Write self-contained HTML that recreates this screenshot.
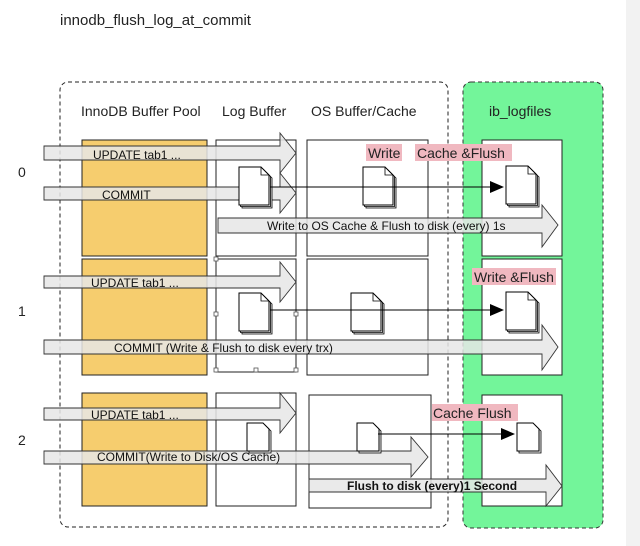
<!DOCTYPE html>
<html><head><meta charset="utf-8"><style>
html,body{margin:0;padding:0;background:#fff;}
svg{display:block;font-family:"Liberation Sans",sans-serif;}
</style></head><body>
<svg width="640" height="546" viewBox="0 0 640 546" xmlns="http://www.w3.org/2000/svg">
<defs>
<g id="doc">
<path d="M3,3 h22 l8,8 v30 h-30z" fill="#eee" stroke="#000" stroke-width="0.8"/>
<path d="M1.5,1.5 h22 l8,8 v30 h-30z" fill="#fff" stroke="#000" stroke-width="0.8"/>
<path d="M0,0 h22 l8,8 v30 h-30z" fill="#fff" stroke="#000" stroke-width="1"/>
<path d="M22,0 v8 h8" fill="none" stroke="#000" stroke-width="0.8"/>
</g>
<g id="docs">
<path d="M2,2 h16 l6,6 v22 h-22z" fill="#eee" stroke="#000" stroke-width="0.8"/>
<path d="M0,0 h16 l6,6 v22 h-22z" fill="#fff" stroke="#000" stroke-width="1"/>
</g>
</defs>
<rect x="626" y="0" width="14" height="546" fill="#f2f2f2"/>
<text x="60" y="25" font-size="15" fill="#222">innodb_flush_log_at_commit</text>
<rect x="60" y="82" width="388" height="445" rx="8" fill="none" stroke="#222" stroke-dasharray="4,3"/>
<rect x="463" y="82" width="140" height="446" rx="8" fill="#73f59a" stroke="#333" stroke-dasharray="4,3"/>
<g font-size="14" fill="#222">
<text x="81" y="116">InnoDB Buffer Pool</text>
<text x="222" y="116">Log Buffer</text>
<text x="311" y="116">OS Buffer/Cache</text>
<text x="489" y="116">ib_logfiles</text>
<text x="18" y="177">0</text><text x="18" y="316">1</text><text x="18" y="445">2</text>
</g>
<g stroke="#222" stroke-width="1">
<rect x="82" y="140" width="125" height="116" fill="#f6cd6e"/>
<rect x="216" y="140" width="80" height="116" fill="#fff"/>
<rect x="307" y="140" width="121" height="116" fill="#fff"/>
<rect x="482" y="140" width="80" height="116" fill="#fff"/>
<rect x="82" y="259" width="125" height="116" fill="#f6cd6e"/>
<rect x="216" y="259" width="80" height="113" fill="#fff"/>
<rect x="307" y="259" width="121" height="116" fill="#fff"/>
<rect x="482" y="259" width="80" height="116" fill="#fff"/>
<rect x="82" y="393" width="125" height="113" fill="#f6cd6e"/>
<rect x="216" y="393" width="80" height="113" fill="#fff"/>
<rect x="309" y="395" width="122" height="113" fill="#fff"/>
<rect x="482" y="395" width="80" height="111" fill="#fff"/>
</g>
<g font-size="14" fill="#222">
<rect x="366" y="144" width="36" height="17" fill="#f0b8c0"/><text x="368" y="158">Write</text>
<rect x="415" y="144" width="97" height="17" fill="#f0b8c0"/><text x="417" y="158">Cache &amp;Flush</text>
<rect x="472" y="268" width="84" height="17" fill="#f0b8c0"/><text x="474" y="282">Write &amp;Flush</text>
<rect x="432" y="404" width="86" height="17" fill="#f0b8c0"/><text x="433" y="418">Cache Flush</text>
</g>
<g fill="rgba(230,230,230,0.85)" stroke="#333" stroke-width="0.9">
<polygon points="44,146 280,146 280,133 296,153 280,173 280,160 44,160"/>
<polygon points="44,187 280,187 280,173 296,193 280,213 280,200 44,200"/>
<polygon points="218,218 542,218 542,205 558,225 542,247 542,233 218,233"/>
<polygon points="44,276 280,276 280,262 296,282 280,302 280,288 44,288"/>
<polygon points="44,340 542,340 542,325 558,347 542,370 542,354 44,354"/>
<polygon points="44,408 280,408 280,393 296,413 280,433 280,420 44,420"/>
<polygon points="44,451 411,451 411,437 428,457 411,477 411,464 44,464"/>
<polygon points="309,479 546,479 546,465 562,486 546,506 546,492 309,492"/>
</g>
<use href="#doc" x="239" y="167"/>
<use href="#doc" x="363" y="167"/>
<use href="#doc" x="506" y="166"/>
<use href="#doc" x="239" y="293"/>
<use href="#doc" x="351" y="293"/>
<use href="#doc" x="506" y="292"/>
<use href="#docs" x="247" y="423"/>
<use href="#docs" x="357" y="423"/>
<use href="#docs" x="517" y="423"/>
<g font-size="12" fill="#111">
<text x="93" y="159">UPDATE tab1 ...</text>
<text x="102" y="199">COMMIT</text>
<text x="267" y="230">Write to OS Cache &amp; Flush to disk (every) 1s</text>
<text x="91" y="287">UPDATE tab1 ...</text>
<text x="114" y="352">COMMIT (Write &amp; Flush to disk  every trx)</text>
<text x="91" y="419">UPDATE tab1 ...</text>
<text x="97" y="461">COMMIT(Write to Disk/OS Cache)</text>
<text x="347" y="490" font-weight="bold">Flush to disk (every)1 Second</text>
</g>
<g stroke="#000" stroke-width="1">
<line x1="270" y1="187" x2="492" y2="187"/>
<line x1="270" y1="310" x2="492" y2="310"/>
<line x1="378" y1="434" x2="503" y2="434"/>
</g>
<polygon points="490,181 504,187 490,193" fill="#000"/>
<polygon points="490,304 504,310 490,316" fill="#000"/>
<polygon points="501,428 515,434 501,440" fill="#000"/>
<g fill="#fff" stroke="#555" stroke-width="0.8">
<rect x="214" y="257" width="4" height="4"/><rect x="214" y="312" width="4" height="4"/><rect x="214" y="368" width="4" height="4"/>
<rect x="254" y="368" width="4" height="4"/><rect x="294" y="368" width="4" height="4"/><rect x="294" y="312" width="4" height="4"/>
</g>
</svg>
</body></html>
